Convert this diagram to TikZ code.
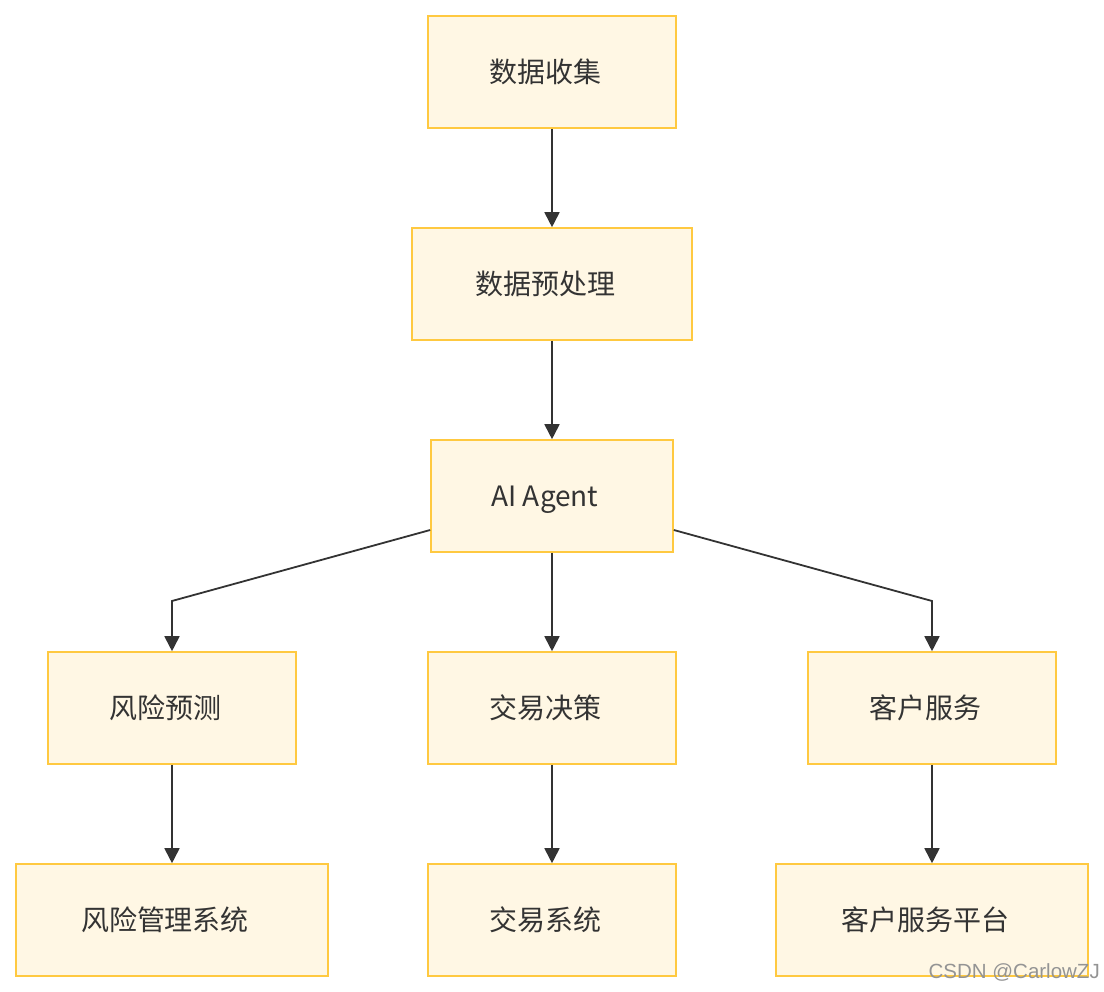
\documentclass[tikz,border=0pt]{standalone}
\usepackage{fontspec}
\newfontfamily\cjk{Noto Sans CJK SC}
\newfontfamily\wm{Liberation Sans}
\usetikzlibrary{arrows.meta}
\definecolor{boxfill}{HTML}{FFF7E4}
\definecolor{boxline}{HTML}{FFC940}
\definecolor{edge}{HTML}{333333}
\tikzset{
  box/.style={draw=boxline, fill=boxfill, line width=1.6pt, minimum height=112pt, inner sep=0pt,
    font=\cjk\fontsize{28}{32}\selectfont, text=edge, text height=21.2pt, text depth=0pt,
    execute at begin node=\hspace*{-14pt}},
  conn/.style={draw=edge, line width=1.8pt, -{Triangle[length=15pt,width=15pt]}},
}
\begin{document}
\begin{tikzpicture}[x=1pt,y=-1pt]
\useasboundingbox (0,0) rectangle (1104,992);
\node[box, minimum width=248pt] (a) at (552,72) {数据收集};
\node[box, minimum width=280pt] (b) at (552,284) {数据预处理};
\node[box, minimum width=242pt] (c) at (552,496) {AI Agent};
\node[box, minimum width=248pt] (d1) at (172,708) {风险预测};
\node[box, minimum width=248pt] (d2) at (552,708) {交易决策};
\node[box, minimum width=248pt] (d3) at (932,708) {客户服务};
\node[box, minimum width=312pt] (e1) at (172,920) {风险管理系统};
\node[box, minimum width=248pt] (e2) at (552,920) {交易系统};
\node[box, minimum width=312pt] (e3) at (932,920) {客户服务平台};
\coordinate (k1) at (172,601);
\coordinate (k3) at (932,601);
\draw[conn] (a) -- (b);
\draw[conn] (b) -- (c);
\draw[conn] (c) -- (d2);
\draw[conn] ([yshift=-34pt]c.west) -- (k1) -- (d1);
\draw[conn] ([yshift=-34pt]c.east) -- (k3) -- (d3);
\draw[conn] (d1) -- (e1);
\draw[conn] (d2) -- (e2);
\draw[conn] (d3) -- (e3);
\node[font=\wm\fontsize{20.5}{24}\selectfont, text=black!42, anchor=east, inner sep=0pt] (w) at (1100,972) {CSDN @CarlowZJ};
\end{tikzpicture}
\end{document}
